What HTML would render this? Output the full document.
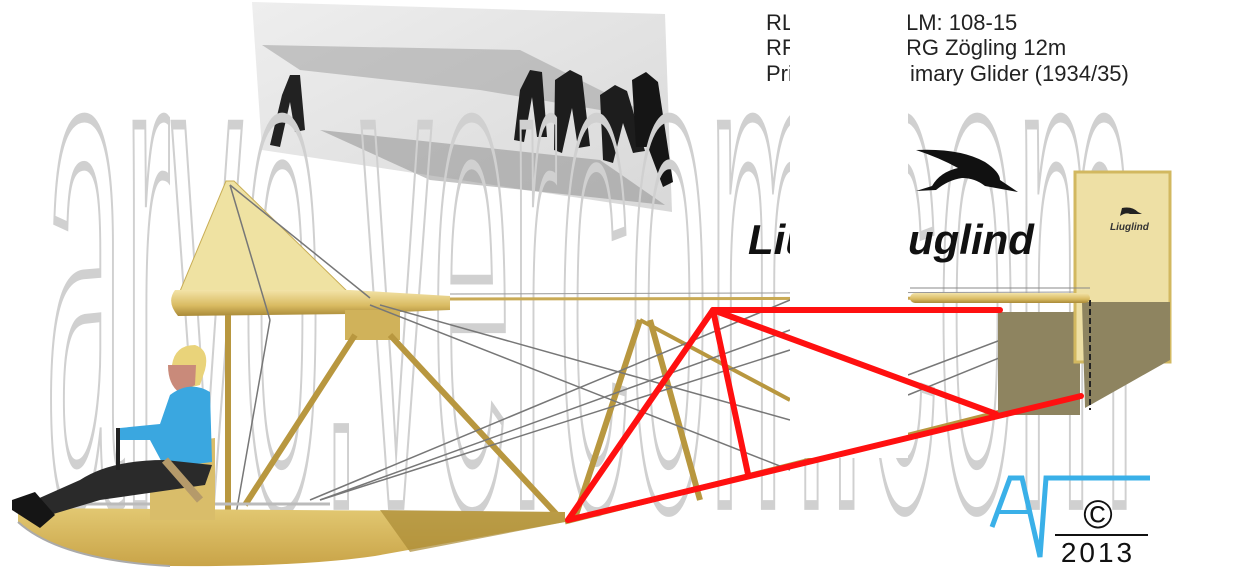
<!DOCTYPE html>
<html><head><meta charset="utf-8"><style>
html,body{margin:0;padding:0;background:#fff;width:1260px;height:577px;overflow:hidden}
svg{display:block;overflow:hidden}
</style></head><body>
<svg width="1260" height="577" viewBox="0 0 1260 577" xmlns="http://www.w3.org/2000/svg">
<defs>
<linearGradient id="wood" x1="0" y1="0" x2="0" y2="1"><stop offset="0" stop-color="#e2c872"/><stop offset="1" stop-color="#c9a448"/></linearGradient>
<linearGradient id="spar" x1="0" y1="0" x2="0" y2="1"><stop offset="0" stop-color="#f3e3a8"/><stop offset=".6" stop-color="#d9bb62"/><stop offset="1" stop-color="#a98a38"/></linearGradient>
<linearGradient id="photo" x1="0" y1="0" x2="1" y2="1"><stop offset="0" stop-color="#eeeeee"/><stop offset="1" stop-color="#d8d8d8"/></linearGradient>
<clipPath id="c"><rect x="0" y="0" width="1260" height="577"/></clipPath>
</defs>
<g clip-path="url(#c)">
<!-- photo -->
<polygon points="252,2 665,14 672,212 262,150" fill="url(#photo)"/>
<polygon points="262,45 520,50 660,120 480,90 300,70" fill="#9a9a9a" opacity=".5"/>
<polygon points="320,130 600,160 665,205 430,180" fill="#8a8a8a" opacity=".5"/>
<path d="M282,95 l8,-20 l10,0 l5,55 l-10,2 l-5,-30 l-10,45 l-10,-2z" fill="#222"/>
<path d="M520,90 l10,-20 l12,2 l5,65 l-10,0 l-5,-40 l-8,45 l-10,-2z" fill="#1d1d1d"/>
<path d="M555,80 l15,-10 l12,6 l8,70 l-12,2 l-6,-40 l-10,45 l-8,-3z" fill="#1d1d1d"/>
<path d="M600,95 l15,-10 l12,6 l18,60 l-12,2 l-10,-30 l-10,40 l-10,-3z" fill="#1d1d1d"/>
<path d="M632,80 l14,-8 l12,10 l15,100 l-10,5 l-15,-40 l-12,0z" fill="#151515"/>
<!-- watermark -->
<g transform="translate(45,505) scale(1,7.2)">
<text x="0" y="0" font-family="Liberation Sans, sans-serif" font-size="100" fill="none" stroke="#d0d0d0" stroke-width="7" vector-effect="non-scaling-stroke" textLength="1090" lengthAdjust="spacingAndGlyphs">arvo.vercom.com</text>
</g>
<!-- header text -->
<g font-family="Liberation Sans, sans-serif" font-size="22" fill="#222">
<text x="766" y="30">RLM</text>
<text x="766" y="55">RFSV</text>
<text x="766" y="81">Primary</text>
<text x="906" y="30">LM:  108-15</text>
<text x="906" y="55">RG Zögling 12m</text>
<text x="910" y="81">imary Glider (1934/35)</text>
</g>
<!-- logo -->
<path d="M916,150 Q960,148 985,162 Q1000,172 1000,180 L1018,192 L985,186 Q975,178 962,178 Q948,180 936,190 L916,191 L932,186 Q940,172 958,168 Q940,158 916,150z" fill="#111"/>
<g font-family="Liberation Sans, sans-serif" font-weight="bold" font-style="italic" font-size="42" fill="#111">
<text x="748" y="254">Liu</text>
<text x="908" y="254">uglind</text>
</g>
<!-- wing / pylon -->
<polygon points="226,181 234,181 348,292 178,296" fill="#efe2a2" stroke="#c8ad55"/>
<path d="M175,290 Q166,302 178,316 L350,314 L450,310 L450,296 L350,290z" fill="url(#spar)"/>
<line x1="450" y1="299" x2="1085" y2="298" stroke="#c9aa55" stroke-width="3"/>
<line x1="450" y1="294" x2="1085" y2="292" stroke="#999" stroke-width="1"/>
<rect x="345" y="310" width="55" height="30" fill="#d0b25a"/>
<!-- struts -->
<g stroke="#b8973f" stroke-width="6">
<line x1="228" y1="315" x2="228" y2="512"/>
<line x1="355" y1="335" x2="245" y2="505"/>
<line x1="390" y1="335" x2="560" y2="518"/>
<line x1="640" y1="320" x2="575" y2="518"/>
<line x1="650" y1="320" x2="700" y2="500"/>
<line x1="565" y1="522" x2="1000" y2="412" stroke-width="5"/>
<line x1="640" y1="320" x2="790" y2="400" stroke-width="4"/>
</g>
<!-- cables -->
<g stroke="#777" stroke-width="1.5" fill="none">
<line x1="230" y1="185" x2="370" y2="298"/>
<line x1="230" y1="185" x2="270" y2="320"/>
<line x1="270" y1="320" x2="235" y2="520"/>
<line x1="370" y1="305" x2="790" y2="470"/>
<line x1="380" y1="305" x2="790" y2="420"/>
<line x1="310" y1="500" x2="790" y2="300"/>
<line x1="320" y1="500" x2="790" y2="330"/>
<line x1="320" y1="500" x2="790" y2="350"/>
<line x1="908" y1="375" x2="1080" y2="310"/>
<line x1="908" y1="395" x2="1080" y2="325"/>
</g>
<!-- skid -->
<path d="M18,508 L565,512 L565,522 L375,556 Q300,567 170,566 Q60,560 18,522z" fill="url(#wood)"/>
<path d="M380,510 L565,512 L565,522 L410,552z" fill="#a98a35" opacity=".7"/>
<path d="M18,522 Q60,560 170,566" stroke="#aaa" stroke-width="2" fill="none"/>
<line x1="40" y1="504" x2="330" y2="504" stroke="#bbb" stroke-width="3"/>
<!-- seat -->
<rect x="150" y="480" width="65" height="40" fill="#d9bd6a"/>
<path d="M200,440 L215,438 L215,500 L198,500z" fill="#d9bd6a"/>
<!-- pilot -->
<path d="M172,365 Q175,345 195,345 Q210,350 205,370 L200,385 L180,390z" fill="#e9d37a"/>
<path d="M168,365 Q168,385 180,393 L195,385 L196,365z" fill="#c98a7a"/>
<path d="M170,395 Q190,380 210,392 L212,462 L165,468 L150,440 L118,440 L120,428 L160,424z" fill="#3aa7e0"/>
<path d="M165,460 L212,465 L205,485 L100,500 L50,515 L35,500 L80,480 Q110,460 165,460z" fill="#2a2a2a"/>
<path d="M12,500 L35,492 L55,515 L40,528 L12,510z" fill="#151515"/>
<line x1="118" y1="428" x2="118" y2="470" stroke="#222" stroke-width="4"/>
<line x1="165" y1="460" x2="200" y2="500" stroke="#b59a6a" stroke-width="8"/>
<!-- tail -->
<rect x="998" y="312" width="82" height="103" fill="#8e8460"/>
<rect x="1075" y="172" width="95" height="190" fill="#eee0a5" stroke="#d2b860" stroke-width="3"/>
<polygon points="1082,302 1170,302 1170,360 1085,408" fill="#8e8460"/>
<line x1="1090" y1="300" x2="1090" y2="410" stroke="#222" stroke-dasharray="6,3" stroke-width="2"/>
<rect x="910" y="293" width="180" height="10" rx="5" fill="url(#spar)"/>
<line x1="910" y1="288" x2="1090" y2="288" stroke="#888"/>
<path d="M1122,208 Q1132,206 1138,212 L1142,214 L1130,214 Q1126,212 1120,216z" fill="#222"/>
<text x="1110" y="230" font-family="Liberation Sans, sans-serif" font-style="italic" font-weight="bold" font-size="10" fill="#333">Liuglind</text>
<!-- white gap -->
<rect x="790" y="0" width="118" height="458" fill="#fff"/>
<!-- red lines -->
<g stroke="#ff1010" stroke-width="6" stroke-linecap="round" fill="none">
<line x1="568" y1="520" x2="713" y2="310"/>
<line x1="713" y1="310" x2="1000" y2="310"/>
<line x1="713" y1="310" x2="748" y2="474"/>
<line x1="713" y1="310" x2="996" y2="414"/>
<line x1="568" y1="520" x2="1081" y2="396"/>
</g>
<!-- copyright logo -->
<path d="M992,527 L1010,478 L1022,478 L1040,557 L1046,478 L1150,478" fill="none" stroke="#3ab0e8" stroke-width="5"/>
<path d="M998,512 L1028,512" stroke="#3ab0e8" stroke-width="4"/>
<text x="1098" y="528" text-anchor="middle" font-family="Liberation Sans, sans-serif" font-size="40" fill="#111">©</text>
<line x1="1055" y1="535" x2="1148" y2="535" stroke="#111" stroke-width="2"/>
<text x="1098" y="562" text-anchor="middle" font-family="Liberation Sans, sans-serif" font-size="28" fill="#111" letter-spacing="3">2013</text>
</g>
</svg>
</body></html>
